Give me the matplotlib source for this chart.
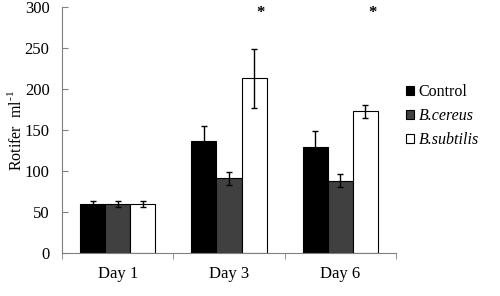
import matplotlib
matplotlib.use("Agg")
import matplotlib.pyplot as plt
import numpy as np

plt.rcParams['font.family'] = ['Liberation Serif', 'DejaVu Serif']
plt.rcParams['mathtext.fontset'] = 'custom'
plt.rcParams['mathtext.rm'] = 'Liberation Serif'

days = ["Day 1", "Day 3", "Day 6"]
series = ["Control", "B.cereus", "B.subtilis"]
control = [60, 137, 129]
control_err = [4, 18, 20]
cereus = [60, 91, 88]
cereus_err = [4, 8, 8]
subtilis = [60, 213, 173]
subtilis_err = [4, 36, 8]
star_days = [1, 2]
star_y = 293

colors = ["#000000", "#404040", "#ffffff"]
values = [control, cereus, subtilis]
errs = [control_err, cereus_err, subtilis_err]

fig = plt.figure(figsize=(5, 2.96), dpi=100)
ax = fig.add_axes([0.124, 0.145, 0.668, 0.831])

x = np.arange(len(days))
w = 0.225
for i, (vals, er, c, name) in enumerate(zip(values, errs, colors, series)):
    ax.bar(x + (i - 1) * w, vals, w, color=c, edgecolor="#000000", linewidth=0.8,
           yerr=er, capsize=2.5, error_kw=dict(elinewidth=1, capthick=1, ecolor="#000000"),
           label=name)

for d in star_days:
    ax.text(d + w + 0.06, star_y, "*", ha="center", va="center", fontsize=12, fontweight="bold")

ax.set_xlim(-0.5, 2.5)
ax.set_ylim(0, 300)
ax.set_yticks(np.arange(0, 301, 50))
ax.set_xticks(x)
ax.set_xticklabels(days, fontsize=12)
ax.set_xticks([-0.5, 0.5, 1.5, 2.5], minor=True)
ax.tick_params(axis='x', which='major', length=0, pad=9)
ax.tick_params(axis='x', which='minor', length=4, color="#808080", direction='out')
ax.tick_params(axis='y', length=4, color="#808080", direction='in', labelsize=12, pad=9)
for s in ["top", "right"]:
    ax.spines[s].set_visible(False)
for s in ["left", "bottom"]:
    ax.spines[s].set_color("#808080")
ax.set_ylabel(r"Rotifer  ml$^{\text{-}1}$", fontsize=11.5)
ax.yaxis.set_label_coords(-0.112, 0.5)

leg = ax.legend(loc="center left", bbox_to_anchor=(1.03, 0.557), frameon=False,
                fontsize=11.5, handlelength=0.5, handleheight=0.5, handletextpad=0.3,
                labelspacing=0.5, borderpad=0, borderaxespad=0)
for t in leg.get_texts()[1:]:
    t.set_fontstyle("italic")

fig.savefig("out.png", dpi=100)
